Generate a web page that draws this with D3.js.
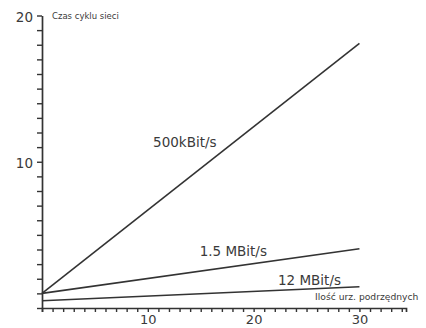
<!DOCTYPE html>
<html>
<head>
<meta charset="utf-8">
<script src="https://cdn.jsdelivr.net/npm/d3@7"></script>
<style>
  html, body { margin: 0; padding: 0; background: #fff; overflow: hidden; }
  svg { display: block; }
</style>
</head>
<body>
<svg id="chart" width="426" height="328"></svg>
<script>
// ---- data ----
const seriesNames = ["500kBit/s", "1.5 MBit/s", "12 MBit/s"];
const xValues = [0, 30];
const series500k = [1.0, 18.1];
const series1_5M = [1.0, 4.05];
const series12M = [0.5, 1.45];
const xTickLabels = [10, 20, 30];
const yTickLabels = [10, 20];
const yAxisTitle = "Czas cyklu sieci";
const xAxisTitle = "Ilość urz. podrzędnych";
// label anchor points in data coordinates
const labelX = [10.5, 14.9, 22.3];
const labelY = [11.0, 3.56, 1.58];

// ---- layout ----
const svg = d3.select("#chart");
const x = d3.scaleLinear().domain([0, 34.4]).range([42, 406]);
const y = d3.scaleLinear().domain([0, 20]).range([308, 15.5]);

const ink = "#333";
const textInk = "#3a3a3a";

// x axis
const xAxis = d3.axisBottom(x)
  .tickValues(d3.range(0, 35))
  .tickSize(4)
  .tickSizeOuter(4)
  .tickFormat(d => xTickLabels.includes(d) ? d : "");
const gx = svg.append("g").attr("transform", `translate(0,${y(0)})`).call(xAxis);
gx.select(".domain").attr("stroke", ink).attr("stroke-width", 1.7);
gx.selectAll(".tick line").attr("stroke", ink).attr("stroke-width", 1.4);
gx.selectAll(".tick text")
  .attr("font-family", "DejaVu Sans").attr("font-size", 13).attr("fill", textInk)
  .attr("y", 16).attr("dy", 0);

// y axis
const yAxis = d3.axisLeft(y)
  .tickValues(d3.range(0, 21))
  .tickSize(5)
  .tickSizeOuter(0)
  .tickFormat(d => yTickLabels.includes(d) ? d : "");
const gy = svg.append("g").attr("transform", `translate(${x(0)},0)`).call(yAxis);
gy.select(".domain").attr("stroke", ink).attr("stroke-width", 1.7);
gy.selectAll(".tick line").attr("stroke", ink).attr("stroke-width", 1.4);
gy.selectAll(".tick text")
  .attr("font-family", "DejaVu Sans").attr("font-size", 13.5).attr("fill", textInk)
  .attr("x", -9).attr("dy", "0.45em");

// lines
const allSeries = [series500k, series1_5M, series12M];
const line = d3.line().x((d, i) => x(xValues[i])).y(d => y(d));
svg.selectAll("path.series").data(allSeries).enter().append("path")
  .attr("class", "series")
  .attr("d", d => line(d))
  .attr("fill", "none")
  .attr("stroke", ink)
  .attr("stroke-width", 1.6);

// series labels
svg.selectAll("text.slabel").data(seriesNames).enter().append("text")
  .attr("class", "slabel")
  .attr("x", (d, i) => x(labelX[i]))
  .attr("y", (d, i) => y(labelY[i]))
  .attr("font-family", "DejaVu Sans")
  .attr("font-size", 13.5)
  .attr("fill", textInk)
  .text(d => d);

// axis titles
svg.append("text")
  .attr("x", 52).attr("y", 19)
  .attr("font-family", "DejaVu Sans").attr("font-size", 8.5).attr("fill", textInk)
  .text(yAxisTitle);
svg.append("text")
  .attr("x", 315).attr("y", 300)
  .attr("font-family", "DejaVu Sans").attr("font-size", 9.2).attr("fill", textInk)
  .text(xAxisTitle);
</script>
</body>
</html>
